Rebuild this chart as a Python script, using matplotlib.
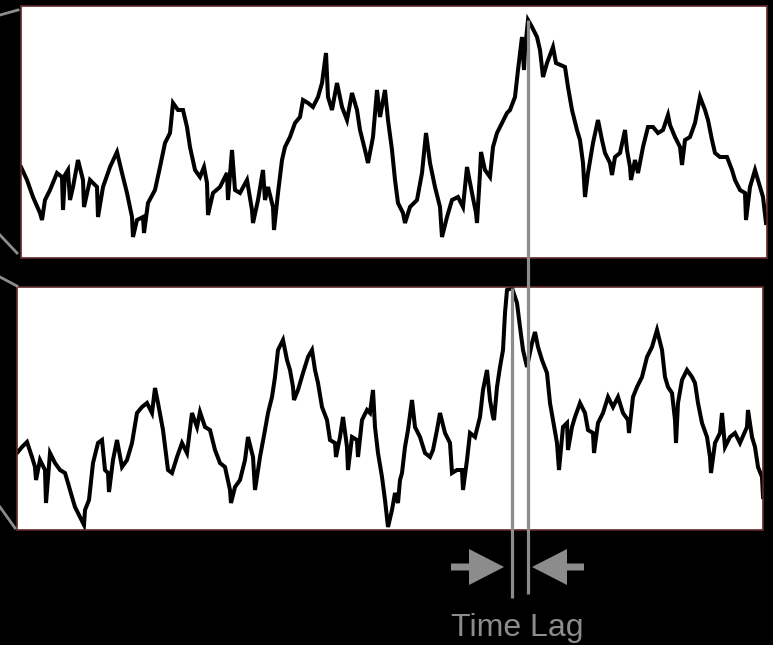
import numpy as np
import matplotlib
matplotlib.use("Agg")
import matplotlib.pyplot as plt
from matplotlib.patches import Polygon

# 위 신호 (시간, 레벨)
top_t = [0, 6, 12, 19, 21, 24, 29, 36, 41, 42, 44, 47, 49, 52, 57, 62, 63, 69, 76, 77,
         82, 89, 96, 101, 106, 111, 112, 116, 122, 123, 127, 134, 139, 144, 149, 152, 157, 162, 166, 169,
         174, 179, 183, 186, 187, 192, 199, 206, 207, 211, 214, 219, 226, 231, 232, 237, 242, 244, 247, 252,
         253, 257, 261, 264, 269, 274, 279, 282, 287, 292, 297, 301, 305, 307, 311, 316, 321, 326, 331, 336,
         339, 344, 347, 352, 356, 359, 364, 367, 371, 374, 377, 382, 384, 389, 396, 401, 405, 409, 414, 419,
         421, 426, 431, 437, 442, 446, 451, 455, 456, 459, 460, 464, 469, 472, 476, 481, 486, 489, 494, 497,
         501, 503, 504, 507, 511, 516, 519, 522, 526, 532, 535, 544, 547, 551, 556, 559, 562, 564, 567, 572,
         577, 581, 584, 589, 591, 594, 599, 604, 606, 609, 610, 614, 617, 622, 627, 632, 637, 642, 647, 649,
         654, 659, 661, 664, 669, 674, 679, 684, 687, 691, 694, 699, 706, 711, 714, 719, 724, 725, 729, 734,
         737, 742, 745]
top_v = [91, 78, 61, 45, 38, 58, 68, 85, 81, 48, 83, 88, 58, 71, 98, 78, 51, 78, 71, 41,
         71, 91, 106, 85, 65, 41, 21, 38, 41, 25, 55, 68, 91, 115, 125, 155, 148, 148, 131, 111,
         88, 81, 91, 75, 43, 65, 71, 85, 58, 108, 68, 65, 78, 48, 35, 58, 88, 58, 71, 51,
         28, 65, 98, 111, 121, 135, 141, 158, 155, 151, 161, 175, 205, 161, 148, 175, 151, 138, 165, 148,
         128, 108, 95, 121, 168, 141, 168, 138, 108, 78, 55, 45, 35, 51, 58, 85, 125, 95, 71, 51,
         21, 41, 58, 61, 51, 91, 65, 45, 35, 85, 106, 88, 81, 111, 125, 135, 145, 148, 161, 188,
         221, 188, 208, 238, 231, 221, 208, 181, 195, 211, 195, 191, 171, 148, 128, 118, 95, 61, 85, 115,
         138, 118, 105, 95, 83, 101, 105, 128, 108, 91, 78, 98, 85, 111, 131, 131, 125, 128, 143, 133,
         121, 111, 93, 118, 121, 135, 161, 148, 138, 118, 105, 101, 101, 88, 78, 68, 65, 38, 71, 88,
         78, 61, 35]

# 아래 신호 (시간, 레벨)
bot_t = [0, 5, 10, 15, 18, 19, 23, 28, 29, 33, 38, 43, 48, 51, 55, 58, 63, 67, 68, 72,
         76, 81, 85, 88, 91, 92, 96, 100, 105, 110, 115, 120, 125, 130, 135, 138, 141, 146, 151, 155,
         160, 165, 170, 175, 180, 183, 188, 193, 198, 203, 208, 213, 214, 218, 223, 228, 231, 236, 238, 241,
         243, 248, 251, 255, 258, 261, 266, 270, 273, 276, 277, 281, 286, 291, 295, 298, 301, 305, 310, 313,
         318, 319, 323, 326, 330, 331, 335, 340, 341, 345, 350, 353, 356, 358, 361, 365, 368, 371, 375, 378,
         381, 383, 385, 388, 391, 395, 398, 403, 408, 413, 416, 420, 423, 428, 433, 435, 440, 445, 446, 450,
         453, 458, 463, 466, 470, 473, 476, 477, 480, 483, 486, 488, 490, 495, 500, 503, 506, 510, 515, 518,
         521, 525, 530, 533, 536, 540, 542, 546, 550, 551, 555, 558, 563, 568, 571, 576, 577, 581, 586, 591,
         596, 601, 606, 611, 612, 616, 620, 625, 630, 635, 640, 645, 648, 651, 655, 658, 659, 661, 665, 670,
         675, 678, 681, 685, 690, 693, 694, 698, 703, 705, 708, 713, 718, 723, 730, 731, 735, 738, 741, 745,
         746]
bot_v = [77, 83, 88, 73, 63, 50, 70, 60, 27, 77, 67, 60, 57, 47, 33, 23, 13, 5, 20, 30,
         67, 87, 90, 60, 57, 38, 70, 90, 63, 70, 87, 117, 123, 127, 117, 142, 127, 100, 60, 57,
         73, 87, 77, 117, 103, 118, 103, 100, 80, 67, 63, 40, 27, 43, 50, 70, 93, 73, 40, 60,
         73, 100, 117, 133, 153, 180, 190, 170, 160, 143, 130, 140, 157, 173, 180, 160, 147, 123, 110, 90,
         87, 73, 93, 113, 83, 60, 93, 90, 73, 110, 120, 117, 140, 103, 77, 53, 30, 3, 20, 37,
         27, 50, 57, 83, 100, 130, 103, 93, 77, 73, 80, 100, 117, 97, 87, 57, 60, 60, 40, 70,
         97, 93, 113, 140, 160, 130, 113, 110, 143, 163, 180, 217, 240, 242, 227, 203, 180, 163, 187, 198,
         183, 170, 157, 127, 110, 87, 60, 103, 107, 80, 103, 113, 127, 117, 100, 97, 77, 107, 117, 133,
         123, 133, 117, 110, 97, 133, 143, 153, 173, 183, 200, 180, 153, 143, 137, 110, 87, 127, 150, 160,
         153, 147, 127, 107, 93, 73, 57, 87, 97, 117, 83, 93, 97, 87, 103, 120, 93, 83, 63, 53,
         33]

W, H = 773, 645
fig = plt.figure(figsize=(W / 100, H / 100), dpi=100, facecolor="black")

frame_color = "#5e2a2a"
gray = "#8c8c8c"

ax_top = fig.add_axes([21 / W, 1 - 258 / H, 746 / W, 252 / H])
ax_bot = fig.add_axes([17 / W, 1 - 530 / H, 746 / W, 243 / H])
for ax, t, v, ymax in [(ax_top, top_t, top_v, 252), (ax_bot, bot_t, bot_v, 243)]:
    ax.set_facecolor("white")
    ax.plot(t, v, color="black", lw=2.9, solid_joinstyle="miter")
    ax.set_xlim(0, 746)
    ax.set_ylim(0, ymax)
    ax.set_xticks([])
    ax.set_yticks([])
    for s in ax.spines.values():
        s.set_color(frame_color)
        s.set_linewidth(1.2)

# 주석용 오버레이 축 (픽셀 좌표)
ov = fig.add_axes([0, 0, 1, 1], facecolor="none")
ov.set_xlim(0, W)
ov.set_ylim(H, 0)
ov.axis("off")

def to_ov(ax, x, y):
    return ov.transData.inverted().transform(ax.transData.transform((x, y)))

# 피크 위치의 세로선
i_top = int(np.argmax(top_v))
i_bot = int(np.argmax(bot_v))
px_top = to_ov(ax_top, top_t[i_top], top_v[i_top])
px_bot = to_ov(ax_bot, bot_t[i_bot], bot_v[i_bot])
ov.plot([px_top[0], px_top[0]], [px_top[1], 594], color=gray, lw=2.3, solid_capstyle="butt")
ov.plot([px_bot[0], px_bot[0]], [px_bot[1], 598], color=gray, lw=2.3, solid_capstyle="butt")

# 화살표
ay = 567
lx = min(px_top[0], px_bot[0]) - 8
rx = max(px_top[0], px_bot[0]) + 4
left_arrow = [(lx - 53, ay - 3.5), (lx - 35, ay - 3.5), (lx - 35, ay - 18), (lx, ay),
              (lx - 35, ay + 18), (lx - 35, ay + 3.5), (lx - 53, ay + 3.5)]
right_arrow = [(rx + 52, ay - 3.5), (rx + 35, ay - 3.5), (rx + 35, ay - 18), (rx, ay),
               (rx + 35, ay + 18), (rx + 35, ay + 3.5), (rx + 52, ay + 3.5)]
ov.add_patch(Polygon(left_arrow, closed=True, color=gray, lw=0))
ov.add_patch(Polygon(right_arrow, closed=True, color=gray, lw=0))

ov.text(517, 628, "Time Lag", color=gray, fontsize=23,
        family="Liberation Sans", ha="center", va="center")

# 왼쪽 가장자리 연결선
for (x0, y0, x1, y1) in [(0, 15, 18, 10), (0, 235, 17, 253), (0, 277, 17, 286), (0, 507, 15, 528)]:
    ov.plot([x0, x1], [y0, y1], color=gray, lw=2)

fig.savefig("out.png", dpi=100, facecolor="black")
